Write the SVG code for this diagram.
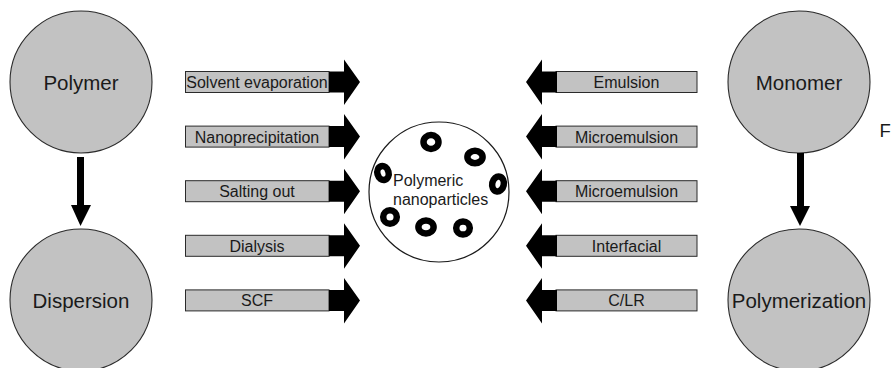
<svg xmlns="http://www.w3.org/2000/svg" width="891" height="368" viewBox="0 0 891 368">
<style>
.bg{fill:#ffffff}
.big{fill:#c2c2c2;stroke:#2a2a2a;stroke-width:1.1}
.hub{fill:#ffffff;stroke:#1a1a1a;stroke-width:1.2}
.box{fill:#c2c2c2;stroke:#2a2a2a;stroke-width:1}
.ring{fill:none;stroke:#000;stroke-width:6.5}
.blk{fill:#000}
.t20{font-family:"Liberation Sans",Arial,sans-serif;font-size:20.5px;fill:#1a1a1a;text-anchor:middle}
.t16{font-family:"Liberation Sans",Arial,sans-serif;font-size:16px;fill:#1a1a1a;text-anchor:middle}
.t16l{font-family:"Liberation Sans",Arial,sans-serif;font-size:16px;fill:#1a1a1a}
</style>
<rect class="bg" x="0" y="0" width="891" height="368"/>

<g id="polymer"><circle class="big" cx="81" cy="82" r="71"/><text class="t20" x="81" y="90">Polymer</text></g>
<g id="dispersion"><circle class="big" cx="81" cy="300" r="71"/><text class="t20" x="81" y="308">Dispersion</text></g>
<g id="monomer"><circle class="big" cx="799" cy="82" r="71"/><text class="t20" x="799" y="90">Monomer</text></g>
<g id="polymerization"><circle class="big" cx="799" cy="300" r="71"/><text class="t20" x="799" y="308">Polymerization</text></g>

<g id="nanoparticles">
<circle class="hub" cx="439" cy="192" r="70"/>
<ellipse class="ring" cx="431" cy="142" rx="7.5" ry="7"/>
<ellipse class="ring" cx="475" cy="157" rx="7.6" ry="6.2"/>
<ellipse class="ring" cx="383" cy="173" rx="5.6" ry="7" transform="rotate(-15 383 173)"/>
<ellipse class="ring" cx="498" cy="184" rx="5.8" ry="7.5" transform="rotate(12 498 184)"/>
<ellipse class="ring" cx="390" cy="217" rx="6.8" ry="6.8"/>
<ellipse class="ring" cx="426" cy="227" rx="7.6" ry="6.5"/>
<ellipse class="ring" cx="463" cy="228" rx="6.8" ry="6.6"/>
<text class="t16l" x="393" y="186">Polymeric</text>
<text class="t16l" x="393" y="205">nanoparticles</text>
</g>

<g id="left-methods">
<g id="m-solvent"><rect class="box" x="185.5" y="71.5" width="143.5" height="21"/><text class="t16" x="257" y="88">Solvent evaporation</text></g>
<g id="m-nanoprec"><rect class="box" x="185.5" y="126.1" width="143.5" height="21"/><text class="t16" x="257" y="142.6">Nanoprecipitation</text></g>
<g id="m-salting"><rect class="box" x="185.5" y="180.7" width="143.5" height="21"/><text class="t16" x="257" y="197.2">Salting out</text></g>
<g id="m-dialysis"><rect class="box" x="185.5" y="235.3" width="143.5" height="21"/><text class="t16" x="257" y="251.8">Dialysis</text></g>
<g id="m-scf"><rect class="box" x="185.5" y="289.9" width="143.5" height="21"/><text class="t16" x="257" y="306.4">SCF</text></g>
</g>

<g id="right-methods">
<g id="m-emulsion"><rect class="box" x="556" y="71.5" width="141" height="21"/><text class="t16" x="626.5" y="88">Emulsion</text></g>
<g id="m-microemulsion1"><rect class="box" x="556" y="126.1" width="141" height="21"/><text class="t16" x="626.5" y="142.6">Microemulsion</text></g>
<g id="m-microemulsion2"><rect class="box" x="556" y="180.7" width="141" height="21"/><text class="t16" x="626.5" y="197.2">Microemulsion</text></g>
<g id="m-interfacial"><rect class="box" x="556" y="235.3" width="141" height="21"/><text class="t16" x="626.5" y="251.8">Interfacial</text></g>
<g id="m-clr"><rect class="box" x="556" y="289.9" width="141" height="21"/><text class="t16" x="626.5" y="306.4">C/LR</text></g>
</g>

<defs>
<polygon id="ra" points="0,-10.5 15,-10.5 15,-22.5 31,0 15,23 15,10.5 0,10.5"/>
<polygon id="la" points="0,-10.5 -15,-10.5 -15,-22.5 -31,0 -15,23 -15,10.5 0,10.5"/>
</defs>

<g id="connectors">
<polygon class="blk" points="77,157 84,157 84,205 91,205 80.5,226 71,205 77,205"/>
<polygon class="blk" points="797,153 804,153 804,206 810,206 800,226 790,206 797,206"/>
<use class="blk" href="#ra" x="329" y="82"/>
<use class="blk" href="#ra" x="329" y="136.6"/>
<use class="blk" href="#ra" x="329" y="191.2"/>
<use class="blk" href="#ra" x="329" y="245.8"/>
<use class="blk" href="#ra" x="329" y="300.4"/>
<use class="blk" href="#la" x="557" y="82"/>
<use class="blk" href="#la" x="557" y="136.6"/>
<use class="blk" href="#la" x="557" y="191.2"/>
<use class="blk" href="#la" x="557" y="245.8"/>
<use class="blk" href="#la" x="557" y="300.4"/>
</g>

<text class="t16l" x="879.5" y="137" style="font-size:18.5px">F</text>
</svg>
